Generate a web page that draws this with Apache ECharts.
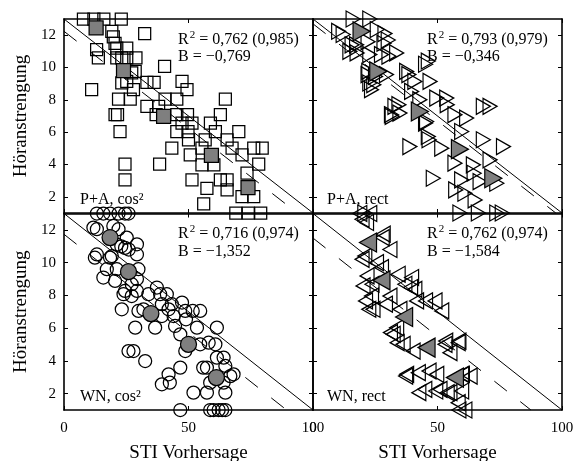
<!DOCTYPE html>
<html><head><meta charset="utf-8">
<script src="https://cdn.jsdelivr.net/npm/echarts@6/dist/echarts.min.js"></script>
<style>html,body{margin:0;padding:0;background:#fff}#c{width:574px;height:461px}</style>
</head><body><div id="c"></div><script>
// ---------- data ----------
const xTicks = [0, 50, 100];
const yTicks = [2, 4, 6, 8, 10, 12];
const panelNames = ['P+A, cos²', 'P+A, rect', 'WN, cos²', 'WN, rect'];
const r2Values = ['0,762 (0,985)', '0,793 (0,979)', '0,716 (0,974)', '0,762 (0,974)'];
const bLabels = ['B = −0,769', 'B = −0,346', 'B = −1,352', 'B = −1,584'];

const tlPoints = [[7.8,13],[12,13],[16,13],[23,13],[19.2,12.24],[19.8,11.9],[32.4,12.1],[20.5,11.5],[13.1,11.1],[13.8,10.6],
 [21.2,11.2],[25.2,11.2],[21.2,10.6],[23.2,10.6],[25.2,10.6],[28.9,10.6],[40.4,10.07],[27.2,9.66],[28.6,9.76],[23.2,9.05],
 [25.2,9.14],[27.9,8.63],[11.1,8.63],[33.3,9.08],[36.2,9.08],[47.4,9.14],[49.4,8.63],[21.9,8.05],[26.6,8.05],[33.3,7.6],
 [38,7.6],[40.6,8.05],[45.3,8.05],[64.8,8.05],[20.5,7.08],[21.5,7.08],[37,7.08],[45.3,7.08],[49.6,7.08],[47.4,6.56],
 [51.4,6.56],[62.8,7.08],[58.8,6.56],[22.5,6.04],[45.3,6.04],[49.8,6.04],[60.8,6.04],[56.7,5.53],[65.5,5.53],[70.2,6.04],
 [50,5.53],[43.3,5.01],[55.4,5.01],[67.5,5.01],[71.5,4.6],[76.2,5.01],[79.6,5.01],[78.2,4.02],[50.7,4.6],[55.4,3.98],
 [60.2,3.98],[24.5,4.02],[38.4,4.02],[24.5,3.05],[51.4,3.05],[62.8,3.05],[65.5,3.05],[57.4,2.53],[65.5,2.43],[73.5,3.46],
 [76.2,2.01],[71.5,2.01],[56.1,1.56],[69,1],[74,1],[79,1]];
const tlMeans = [[12.9,12.45],[23.9,9.8],[40,6.97],[59.2,4.56],[73.9,2.57]];

const trPoints = [[16.1,13],[22.8,13],[10.3,12.24],[12.1,12.04],[25.8,12.35],[28.9,12.1],[30.2,11.7],[28.5,11.5],[22.1,11.6],[17.5,11.4],
 [15.7,11.4],[14.8,11],[17.7,10.9],[22.8,10.8],[27.5,10.8],[30.5,10.7],[33.6,10.9],[22.4,9.76],[22.1,9.56],[25.1,9.45],
 [22.8,9.04],[24.4,8.94],[23.5,8.63],[29.5,9.56],[37.6,9.76],[38.5,9.56],[40.9,9.14],[46.3,10.4],[45.2,10.2],[47,9.14],
 [39.6,8.52],[49.7,8.11],[53.7,8.11],[53.9,7.7],[68.4,7.6],[71.1,7.6],[32.9,7.6],[34.5,7.7],[31.5,7.08],[34.9,7.18],
 [31.8,6.98],[42.9,8.01],[45.6,6.66],[45.2,6.56],[57,7.08],[61.7,6.87],[38.9,5.11],[46.3,5.73],[46.6,5.53],[51.7,5.01],
 [59.7,6.04],[68.4,5.53],[76.5,5.11],[57,4.08],[64.4,3.98],[71.1,4.29],[48.3,3.15],[59.7,3.05],[64.7,3.46],[67.1,2.94],
 [73.8,2.84],[57.3,2.43],[61,2.22],[65.1,1.81],[59,1],[66.4,1],[73.8,1],[76,1],[20.8,1]];
const trMeans = [[19.5,12.24],[26.2,9.76],[42.9,7.28],[59,4.95],[72.4,3.15]];

const blPoints = [[13.2,13],[15.8,13],[18.5,13],[21.9,13],[24.5,13],[25.9,13],[11.8,12.14],[13.2,12.04],[19.8,12.24],[21.9,12.04],
 [25.2,11.53],[29.3,11.12],[21.2,11.1],[23,11],[24.5,10.9],[26,10.8],[13.2,10.5],[12.4,10.3],[18.5,10.3],[19.2,10.4],
 [29.3,10.5],[17.2,9.6],[21.2,9.6],[29.9,9.6],[15.8,9.09],[20.5,8.88],[27.2,8.68],[29.3,9],[23.9,8.07],[24.5,8.27],
 [27.2,7.96],[29.3,8.27],[33.9,8.07],[37.3,8.48],[38.6,8.07],[41.3,8.07],[23.2,7.15],[29.9,7.05],[31.9,7.15],[39.3,7.46],
 [42,7.15],[43.3,7.46],[47.4,7.56],[28.6,6.03],[36.6,6.03],[39.3,6.74],[44,6.74],[44.6,6.13],[49,6.54],[51.7,7.05],
 [54.7,7.05],[48.7,7.05],[53.4,6.03],[61.4,6.03],[46.7,5.62],[54.7,5.01],[58.1,5.11],[60.8,5.01],[48.7,4.6],[25.9,4.6],
 [27.9,4.6],[32.6,3.99],[46.7,3.59],[42,3.18],[39.3,2.57],[42.5,2.67],[52,2.06],[55.9,3.59],[57.4,3.59],[61.4,4.2],
 [64.1,4.2],[64.8,3.69],[66.8,3.07],[68.1,3.18],[64.1,2.67],[58.7,2.67],[57.4,2.06],[64.8,2.06],[46.7,1],[58.7,1],
 [60.1,1],[62.1,1],[63.5,1],[64.8,1]];
const blMeans = [[18.5,11.53],[25.9,9.45],[34.9,6.89],[50,5.01],[61.2,2.98]];

const brPoints = [[18.8,13],[22.8,13],[21.5,12.45],[19.7,12.65],[28.2,11.74],[27.8,11.53],[30.9,10.8],[20.8,10.4],[19.7,10.2],[25.5,10],
 [27.5,9.7],[34.2,9.29],[39.6,9.09],[39.2,8.48],[20.1,8.58],[21.7,9.19],[23.7,8.68],[36.9,8.68],[40.9,8.37],[23.5,7.96],
 [30.9,7.96],[34.9,7.15],[41.6,7.66],[45.2,7.66],[49,7.66],[51.7,7.05],[24.1,7.15],[21.1,7.66],[29.1,7.46],[22.4,7.15],
 [33.6,6.03],[31.1,5.73],[32.2,5.62],[33.8,5.11],[36.2,5.01],[40.2,4.6],[53,5.01],[53.3,5.21],[58.3,5.11],[58.6,5.21],
 [55,4.5],[37.6,3.18],[37.2,3.07],[42.3,3.28],[46.6,3.38],[49.7,3.18],[59.7,3.18],[60,3.18],[63.1,3.07],[44.9,2.26],
 [42.5,2.06],[51,2.26],[49.3,2.16],[55,2.06],[53.9,2.06],[59.7,2.16],[58.3,1.45],[61,1],[58.6,1]];
const brMeans = [[22.1,11.23],[27.5,8.92],[36.6,6.68],[45.6,4.81],[57,2.98]];

const solidFit = [[0,13],[100,1]];
const dashedFits = [
  [[0,12.24],[93.7,1]],
  [[0,12.7],[97.5,1]],
  [[0,11.73],[89.4,1]],
  [[0,11.5],[87.5,1]]
];

// ---------- layout / style ----------
const FONT = 'Liberation Serif';
const grids = [
  {left:64, top:19, width:249, height:194, outerBoundsMode:'none', containLabel:false},
  {left:313, top:19, width:249, height:194, outerBoundsMode:'none', containLabel:false},
  {left:64, top:213.5, width:249, height:196.5, outerBoundsMode:'none', containLabel:false},
  {left:313, top:213.5, width:249, height:196.5, outerBoundsMode:'none', containLabel:false}
];
const rightTri = 'path://M0,0L10,5L0,10Z';
const leftTri = 'path://M10,0L0,5L10,10Z';
const panels = [
  {pts: tlPoints, means: tlMeans, sym: 'rect', size: 12, msize: 14},
  {pts: trPoints, means: trMeans, sym: rightTri, size: [14,16], msize: [17,19]},
  {pts: blPoints, means: blMeans, sym: 'circle', size: 13, msize: 16},
  {pts: brPoints, means: brMeans, sym: leftTri, size: [14,16], msize: [17,19]}
];

const xAxes = [], yAxes = [], series = [], graphics = [];
const lineBlack = {color:'#000', width:1.6};
const tick = {inside:true, length:4, lineStyle:{color:'#000', width:1}};
panels.forEach((p, i) => {
  const bottomRow = i >= 2, leftCol = (i % 2 === 0);
  xAxes.push({
    gridIndex:i, type:'value', min:0, max:100, interval:50, position:'bottom',
    axisLine:{show:true, onZero:false, lineStyle:lineBlack},
    axisTick:tick, splitLine:{show:false},
    axisLabel:{show:bottomRow, color:'#000', fontFamily:FONT, fontSize:15, margin:11, showMinLabel:true, showMaxLabel:true},
    name: bottomRow ? 'STI Vorhersage' : '', nameLocation:'middle', nameGap:34,
    nameTextStyle:{color:'#000', fontFamily:FONT, fontSize:19}
  });
  xAxes.push({
    gridIndex:i, type:'value', min:0, max:100, interval:50, position:'top',
    axisLine:{show:true, onZero:false, lineStyle:lineBlack},
    axisTick:tick, splitLine:{show:false}, axisLabel:{show:false}
  });
  yAxes.push({
    gridIndex:i, type:'value', min:1, max:13, position:'left',
    axisLine:{show:true, onZero:false, lineStyle:lineBlack},
    axisTick:Object.assign({customValues:yTicks}, tick), splitLine:{show:false},
    axisLabel:{show:leftCol, customValues:yTicks, color:'#000', fontFamily:FONT, fontSize:15, margin:8},
    name: leftCol ? 'Höranstrengung' : '', nameLocation:'middle', nameGap:33,
    nameTextStyle:{color:'#000', fontFamily:FONT, fontSize:19}
  });
  yAxes.push({
    gridIndex:i, type:'value', min:1, max:13, position:'right',
    axisLine:{show:true, onZero:false, lineStyle:lineBlack},
    axisTick:Object.assign({customValues:yTicks}, tick), splitLine:{show:false}, axisLabel:{show:false}
  });
  const xi = 2*i, yi = 2*i;
  series.push({
    type:'scatter', xAxisIndex:xi, yAxisIndex:yi, data:p.pts, symbol:p.sym, symbolSize:p.size,
    clip:false, silent:true, z:2,
    itemStyle:{color:'rgba(255,255,255,0)', borderColor:'#000', borderWidth:1.25, opacity:1}
  });
  series.push({
    type:'line', xAxisIndex:xi, yAxisIndex:yi, data:solidFit, showSymbol:false, silent:true, z:3,
    lineStyle:{color:'#000', width:1}
  });
  series.push({
    type:'line', xAxisIndex:xi, yAxisIndex:yi, data:dashedFits[i], showSymbol:false, silent:true, z:3,
    lineStyle:{color:'#000', width:1, type:[16,17]}
  });
  series.push({
    type:'scatter', xAxisIndex:xi, yAxisIndex:yi, data:p.means, symbol:p.sym, symbolSize:p.msize,
    clip:false, silent:true, z:4,
    itemStyle:{color:'#7f7f7f', borderColor:'#000', borderWidth:1.25, opacity:1}
  });
  const g = grids[i];
  const tx = g.left + 114;
  const ty = g.top + 19.5;
  graphics.push({type:'text', x:tx, y:ty, style:{
    text:'{r|R}{s|2}{r| = ' + r2Values[i] + '}',
    fill:'#000', verticalAlign:'middle',
    rich:{
      r:{fontFamily:FONT, fontSize:16, fill:'#000', lineHeight:18, verticalAlign:'bottom'},
      s:{fontFamily:FONT, fontSize:11, fill:'#000', lineHeight:18, verticalAlign:'top', padding:[0,0,0,1]}
    }
  }});
  graphics.push({type:'text', x:tx, y:ty+18.5, style:{text:bLabels[i], fontFamily:FONT, fontSize:16, fill:'#000', verticalAlign:'middle'}});
  graphics.push({type:'text', x:g.left + (leftCol ? 16 : 14), y:g.top + g.height - 13, style:{text:panelNames[i], fontFamily:FONT, fontSize:16, fill:'#000', verticalAlign:'middle'}});
});

const chart = echarts.init(document.getElementById('c'), null, {renderer:'canvas'});
chart.setOption({
  animation:false,
  backgroundColor:'#fff',
  grid:grids,
  xAxis:xAxes,
  yAxis:yAxes,
  series:series,
  graphic:graphics
});
</script></body></html>
